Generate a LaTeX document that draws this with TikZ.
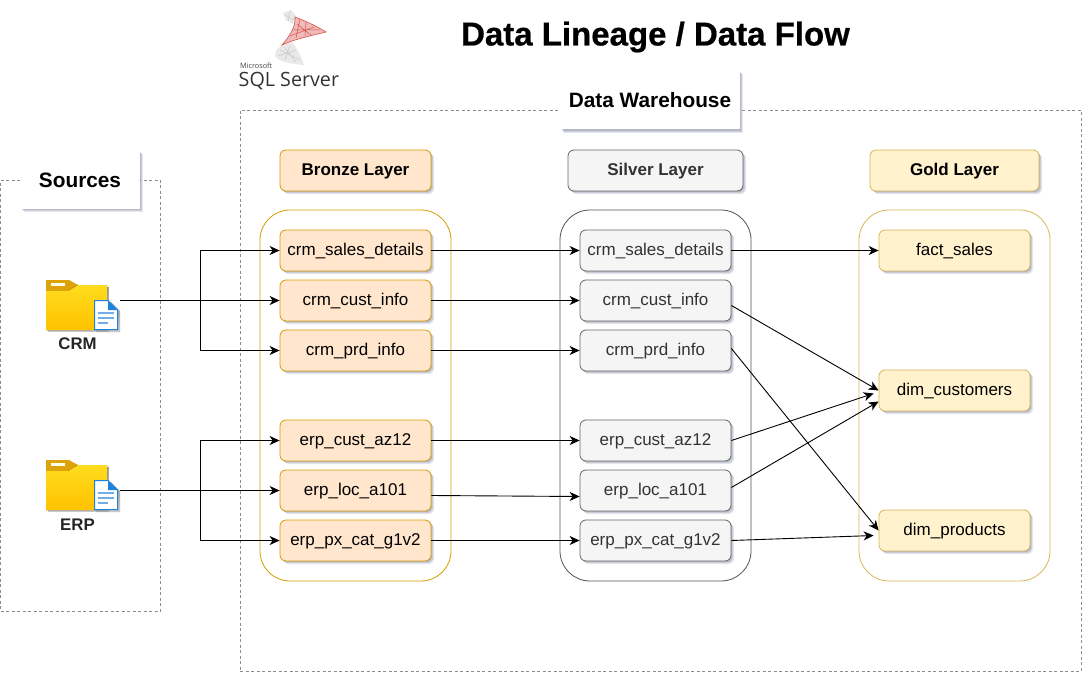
\documentclass[tikz,border=0pt]{standalone}
\usepackage{fontspec}
\setmainfont{Liberation Sans}
\newfontfamily\logofont{Open Sans}
\newfontfamily\titlefont[FakeBold=0.6]{Liberation Sans Bold}
\usetikzlibrary{shadows,arrows.meta}
\definecolor{shade}{HTML}{6C7390}
\tikzset{
  softshadow/.style={
    drop shadow={shadow xshift=3.2pt,shadow yshift=-3.2pt,fill=shade,opacity=.16},
    drop shadow={shadow xshift=2.2pt,shadow yshift=-2.2pt,fill=shade,opacity=.22},
    drop shadow={shadow xshift=1.2pt,shadow yshift=-1.2pt,fill=shade,opacity=.25}},
  tbl/.style={draw,rounded corners=6pt,minimum width=151pt,minimum height=41pt,inner sep=0pt,text height=14pt,text depth=4pt,font=\fontsize{17}{18}\selectfont,softshadow,line width=.8pt},
  bronze/.style={tbl,fill=bronzefill,draw=bronzeline},
  silver/.style={tbl,fill=silverfill,draw=silverline,text=silvertext},
  gold/.style={tbl,fill=goldfill,draw=goldline},
  layerhead/.style={font=\bfseries\fontsize{17}{18}\selectfont},
  grp/.style={draw,rounded corners=30pt,line width=.8pt,fill=none,inner sep=0pt,minimum width=191pt,minimum height=371pt},
  dashbox/.style={draw=dashgray,line width=.7pt,dash pattern=on 3pt off 2.5pt,inner sep=0pt},
  titlebox/.style={fill=white,inner sep=0pt,font=\bfseries\fontsize{20.8}{24}\selectfont,softshadow},
  flowb/.style={draw=black,line width=.9pt,-{Stealth[length=10pt,width=9pt,inset=3pt]}},
  srclabel/.style={font=\bfseries\fontsize{16.8}{18}\selectfont,text=black!85},
  folderspot/.style={minimum width=74pt,minimum height=50pt,inner sep=0pt},
}
\definecolor{bronzefill}{HTML}{FFE6CC}
\definecolor{bronzeline}{HTML}{D79B00}
\definecolor{silverfill}{HTML}{F5F5F5}
\definecolor{silverline}{HTML}{666666}
\definecolor{silvertext}{HTML}{333333}
\definecolor{goldfill}{HTML}{FFF2CC}
\definecolor{goldline}{HTML}{D6B656}
\definecolor{dashgray}{HTML}{8C8C8C}
\definecolor{foldertop}{HTML}{FFDC1E}
\definecolor{folderbot}{HTML}{FFC200}
\definecolor{foldertab}{HTML}{DCA40A}
\definecolor{docblue}{HTML}{1E82DC}
\definecolor{docline}{HTML}{6FAEE8}
\definecolor{logored}{HTML}{D8524C}
\definecolor{logogray}{HTML}{C9C9C9}
\begin{document}
\begin{tikzpicture}[x=1pt,y=-1pt]
\useasboundingbox (0,0) rectangle (1092,682);
% dashed containers
\node[dashbox,minimum width=841pt,minimum height=561pt] (dw) at (660.5,390.5) {};
\node[dashbox,minimum width=160pt,minimum height=431pt] (src) at (80.5,395.5) {};
% logo
\begin{scope}
  \fill[logogray!45] (283,13) -- (291,10) -- (296,16) -- (293,24) -- (286,20) -- cycle;
  \draw[logogray,line width=.4pt] (285,15) -- (294,20) (290,11) -- (288,21);
  \fill[logogray!40] (276,50) .. controls (280,46) and (285,44) .. (292,42) .. controls (298,50) and (302,58) .. (304,65) .. controls (292,64) and (278,62) .. (275,56) -- cycle;
  \draw[logogray,line width=.5pt] (280,50) -- (300,60) (290,45) -- (285,60) (296,50) -- (278,56) (284,47) -- (296,62);
  \fill[logored!40] (295,17) .. controls (308,22) and (318,27) .. (326,32) .. controls (310,36) and (295,39) .. (282,45) .. controls (290,36) and (296,26) .. (295,17) -- cycle;
  \draw[logored,line width=.6pt] (295,17) .. controls (308,22) and (318,27) .. (326,32) .. controls (310,36) and (295,39) .. (282,45) .. controls (290,36) and (296,26) .. (295,17) -- cycle;
  \draw[logored,line width=.5pt] (297,24) -- (312,36) (300,19) -- (296,38) (290,36) -- (314,27) (306,22) -- (305,36) (293,30) -- (320,30);
\end{scope}
\node[font=\logofont\fontsize{7.3}{8}\selectfont,text=black!75,anchor=west,inner sep=0pt] (mslabel) at (240,65.5) {Microsoft};
\node[font=\logofont\fontsize{19.7}{22}\selectfont,text=black!80,anchor=west,inner sep=0pt] (sqllabel) at (238.5,81) {SQL Server};
% title
\node[font=\titlefont\fontsize{33}{36}\selectfont,inner sep=0pt] (title) at (655.5,37) {Data Lineage / Data Flow};
\node[titlebox,minimum width=179pt,minimum height=59pt] (dwtitle) at (650,100) {Data Warehouse};
\node[titlebox,minimum width=119pt,minimum height=58pt] (srctitle) at (80,180) {Sources};
% groups
\node[grp,draw=bronzeline] (bronzegrp) at (355.5,395.5) {};
\node[grp,draw=silverline!80!black] (silvergrp) at (655.5,395.5) {};
\node[grp,draw=goldline] (goldgrp) at (954.5,395.5) {};
% layer headers
\node[bronze,layerhead] (bronzehead) at (355.5,170.5) {Bronze Layer};
\node[silver,layerhead,minimum width=175pt] (silverhead) at (655.5,170.5) {Silver Layer};
\node[gold,layerhead,minimum width=169pt] (goldhead) at (954.5,170.5) {Gold Layer};
% bronze tables
\node[bronze] (b1) at (355.5,250.5) {crm\_sales\_details};
\node[bronze] (b2) at (355.5,300.5) {crm\_cust\_info};
\node[bronze] (b3) at (355.5,350.5) {crm\_prd\_info};
\node[bronze] (b4) at (355.5,440.5) {erp\_cust\_az12};
\node[bronze] (b5) at (355.5,490.5) {erp\_loc\_a101};
\node[bronze] (b6) at (355.5,540.5) {erp\_px\_cat\_g1v2};
% silver tables
\node[silver] (s1) at (655.5,250.5) {crm\_sales\_details};
\node[silver] (s2) at (655.5,300.5) {crm\_cust\_info};
\node[silver] (s3) at (655.5,350.5) {crm\_prd\_info};
\node[silver] (s4) at (655.5,440.5) {erp\_cust\_az12};
\node[silver] (s5) at (655.5,490.5) {erp\_loc\_a101};
\node[silver] (s6) at (655.5,540.5) {erp\_px\_cat\_g1v2};
% gold tables
\node[gold] (g1) at (954.5,250.5) {fact\_sales};
\node[gold] (g2) at (954.5,390.5) {dim\_customers};
\node[gold] (g3) at (954.5,530.5) {dim\_products};
% folders
\foreach \fy/\nm in {0/crm,180/erp}{
\begin{scope}[yshift=-\fy pt]
  \fill[shade,opacity=.3] (48,287) rectangle (109,332);
  \fill[foldertab] (46,280) -- (69,280) -- (78,285) -- (78,291) -- (46,291) -- cycle;
  \fill[top color=foldertop,bottom color=folderbot] (46,291) -- (68,291) -- (78,285) -- (107,285) -- (107,330) -- (46,330) -- cycle;
  \fill[white!90!yellow] (51,283) rectangle (65,285.5);
  \fill[shade,opacity=.3] (96,302) -- (111,302) -- (120,311) -- (120,332) -- (96,332) -- cycle;
  \filldraw[fill=white,draw=docblue,line width=1pt] (94.5,300.5) -- (108,300.5) -- (117.5,310) -- (117.5,329.5) -- (94.5,329.5) -- cycle;
  \fill[docblue] (108,300.5) -- (117.5,310) -- (108,310) -- cycle;
  \draw[docline,line width=1.6pt] (97.5,313) -- (114,313) (97.5,318) -- (114,318) (97.5,323) -- (108,323);
\end{scope}
}
\node[folderspot] (crmfolder) at (83,300.5) {};
\node[folderspot] (erpfolder) at (83,490.5) {};
\node[srclabel] (crmlabel) at (77.5,344) {CRM};
\node[srclabel] (erplabel) at (77.5,524.5) {ERP};
% source connectors
\coordinate (crmsplit) at (200.5,300.5);
\coordinate (erpsplit) at (200.5,490.5);
\draw[flowb] (crmfolder.east) -- (b2.west);
\draw[flowb] (crmsplit) |- (b1.west);
\draw[flowb] (crmsplit) |- (b3.west);
\draw[flowb] (erpfolder.east) -- (b5.west);
\draw[flowb] (erpsplit) |- (b4.west);
\draw[flowb] (erpsplit) |- (b6.west);
% bronze to silver
\draw[flowb] (b1.east) -- (s1.west);
\draw[flowb] (b2.east) -- (s2.west);
\draw[flowb] (b3.east) -- (s3.west);
\draw[flowb] (b4.east) -- (s4.west);
\draw[flowb] ([yshift=-5pt]b5.east) -- ([yshift=-6pt]s5.west);
\draw[flowb] (b6.east) -- (s6.west);
% silver to gold
\draw[flowb] (s1.east) -- (g1.west);
\draw[flowb] ([yshift=-5pt]s2.east) -- (g2.west);
\draw[flowb] ([yshift=2pt]s3.east) -- (g3.west);
\draw[flowb] (s4.east) -- ([xshift=-5pt,yshift=-3pt]g2.west);
\draw[flowb] ([yshift=3pt]s5.east) -- ([yshift=-11pt]g2.west);
\draw[flowb] (s6.east) -- ([xshift=-5pt,yshift=-5pt]g3.west);
\end{tikzpicture}
\end{document}
